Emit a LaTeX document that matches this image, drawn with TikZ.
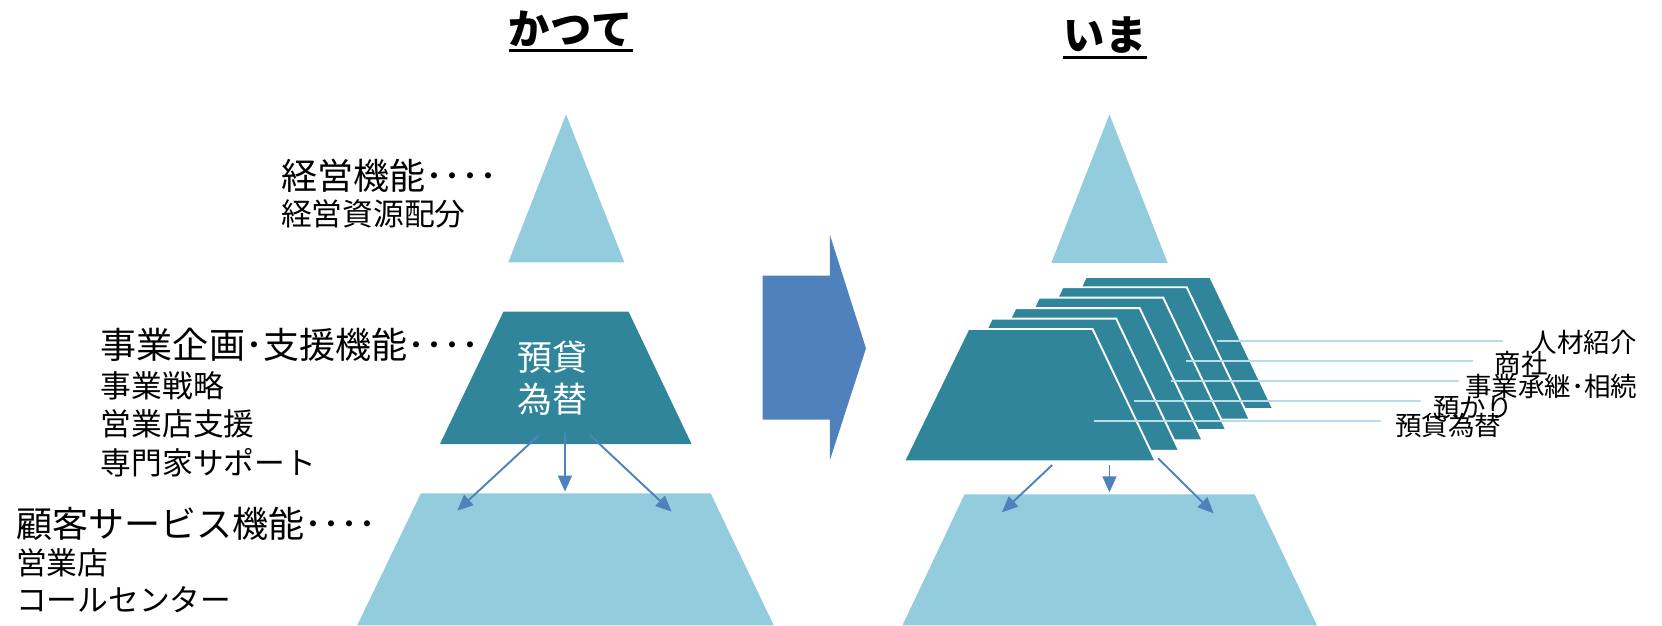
\documentclass[tikz,border=0pt]{standalone}
\usepackage{fontspec}
\setmainfont{Noto Sans CJK JP}
\usetikzlibrary{arrows.meta}
\definecolor{lightb}{RGB}{147,205,221}
\definecolor{tealb}{RGB}{49,133,155}
\definecolor{arrowb}{RGB}{79,129,189}
\definecolor{lineb}{RGB}{183,222,232}
\begin{document}
\begin{tikzpicture}[x=1pt,y=-1pt,
  ttl/.style={inner sep=0pt,anchor=base,font=\fontsize{39}{39}\selectfont\bfseries},
  uline/.style={line width=2.8pt},
  labbig/.style={inner sep=0pt,anchor=base west,font=\fontsize{34}{34}\selectfont},
  labsm/.style={inner sep=0pt,anchor=base west,font=\fontsize{29}{29}\selectfont},
  wtxt/.style={inner sep=0pt,anchor=base,text=white,font=\fontsize{33}{33}\selectfont},
  rlab/.style={inner sep=0pt,anchor=base west,font=\fontsize{25}{25}\selectfont},
  lightshape/.style={fill=lightb},
  darkshape/.style={fill=tealb},
  layer/.style={fill=tealb,draw=white,line width=1.8pt,line join=miter},
  flow/.style={draw=arrowb,line width=1.8pt,-{Triangle[length=15pt,width=13pt]}},
  lbl/.style={draw=lineb,line width=1.6pt}]
\useasboundingbox (0,0) rectangle (1568,590);

% titles
\node[ttl] (kt) at (538.5,42) {かつて};
\draw[uline] ([yshift=-6pt]kt.base west) -- ([yshift=-6pt]kt.base east);
\node[ttl] (im) at (1042.5,48) {いま};
\draw[uline] ([yshift=-6pt]im.base west) -- ([yshift=-6pt]im.base east);

% left pyramid
\fill[lightshape] (534,108) -- (589,247.5) -- (479.5,247.5) -- cycle;
\fill[darkshape] (475,294) -- (593,294) -- (652.5,419) -- (415,419) -- cycle;
\fill[lightshape] (397,465.5) -- (670.5,465.5) -- (730,590) -- (337,590) -- cycle;
\node[wtxt] (m1) at (521,350) {預貸};
\node[wtxt] (m2) at (521,389) {為替};

\coordinate (la1) at (508.5,410.4); \coordinate (lb1) at (431.4,481.8);
\coordinate (la2) at (533,408.8);   \coordinate (lb2) at (533,463.8);
\coordinate (la3) at (556.6,410.4); \coordinate (lb3) at (633.6,482.7);
\draw[flow] (la1) -- (lb1);
\draw[flow] (la2) -- (lb2);
\draw[flow] (la3) -- (lb3);

% left labels
\node[labbig] (f1) at (265,178.6) {経営機能････};
\node[labsm] (f1a) at (265,213) {経営資源配分};
\node[labbig] (f2) at (95,338.6) {事業企画･支援機能････};
\node[labsm] (f2a) at (95,375) {事業戦略};
\node[labsm] (f2b) at (95,411) {営業店支援};
\node[labsm] (f2c) at (95,447.7) {専門家サポート};
\node[labbig] (f3) at (15,507) {顧客サービス機能････};
\node[labsm] (f3a) at (15,542) {営業店};
\node[labsm] (f3b) at (15,576.6) {コールセンター};

% big arrow
\fill[arrowb] (719.5,260) -- (783,260) -- (783,221.7) -- (817,328.6) -- (783,434) -- (783,396) -- (719.5,396) -- cycle;

% right pyramid
\fill[lightshape] (1046.7,108) -- (1101.6,248) -- (991.8,248) -- cycle;
\fill[lightshape] (910,466.3) -- (1183.6,466.3) -- (1242.5,590) -- (851.4,590) -- cycle;
\foreach \k in {5,4,3,2,1,0} {
  \filldraw[layer,shift={(22.2*\k,-9.85*\k)}] (913.5,310.4) -- (1030.8,310.4) -- (1090.3,435.2) -- (852.8,435.2) -- cycle;
}

\coordinate (s1) at (1147.8,321.7); \coordinate (e1) at (1418,321.7);
\coordinate (s2) at (1118.9,340.3); \coordinate (e2) at (1390,340.3);
\coordinate (s3) at (1104.7,359.4); \coordinate (e3) at (1376,359.4);
\coordinate (s4) at (1070,378.3);   \coordinate (e4) at (1341,378.3);
\coordinate (s5) at (1032,397.2);   \coordinate (e5) at (1303,397.2);
\draw[lbl] (s1) -- (e1);
\draw[lbl] (s2) -- (e2);
\draw[lbl] (s3) -- (e3);
\draw[lbl] (s4) -- (e4);
\draw[lbl] (s5) -- (e5);

\node[rlab] (r1) at (1444,333) {人材紹介};
\node[rlab] (r2) at (1410,352) {商社};
\node[rlab] (r3) at (1382,374) {事業承継･相続};
\node[rlab] (r4) at (1352,394) {預かり};
\node[rlab] (r5) at (1316,411) {預貸為替};

\coordinate (ra1) at (992.7,438.7);  \coordinate (rb1) at (945.3,483.3);
\coordinate (ra2) at (1046.7,438.7); \coordinate (rb2) at (1046.7,464.5);
\coordinate (ra3) at (1092.6,432.4); \coordinate (rb3) at (1145,484.3);
\draw[flow] (ra1) -- (rb1);
\draw[flow] (ra2) -- (rb2);
\draw[flow] (ra3) -- (rb3);
\end{tikzpicture}
\end{document}
